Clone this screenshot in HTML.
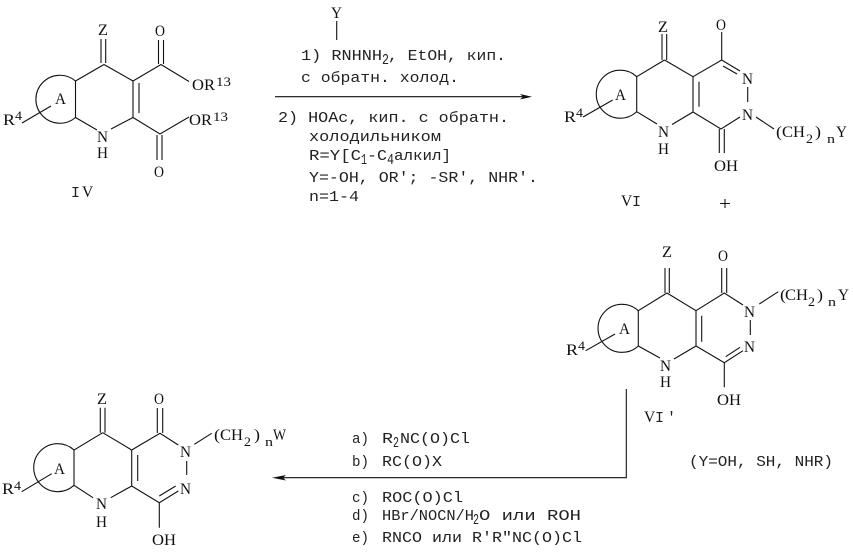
<!DOCTYPE html>
<html>
<head>
<meta charset="utf-8">
<style>
html,body{margin:0;padding:0;background:#fff}
svg{display:block}
text{font-family:"Liberation Serif","DejaVu Serif",serif;font-size:15.5px;fill:#111}
.m,.m text{font-family:"Liberation Mono","DejaVu Sans Mono",monospace;font-size:15px;fill:#222}
.s{font-size:13px}
.ms{font-family:"Liberation Mono","DejaVu Sans Mono",monospace;font-size:12px;fill:#222}
.b{fill:none;stroke:#111;stroke-width:1.1}
</style>
</head>
<body>
<svg width="853" height="556" viewBox="0 0 853 556" xmlns="http://www.w3.org/2000/svg">

<!-- IV -->
<path class="b" d="M101 39V63M105.7 39V63M104 64.5L75.5 81V117.5L97 130M111 129L133 117.5V81L104 64.5M139 83V113M133 81L161 64.5L189 81.5M158.5 40V64M163.5 40V64M133 117.5L160 134L189 117M157 135V160M162 135V160M22 123L51 106M75.5 81A24 24 0 1 0 75.5 117.5"/>
<text x="98" y="35" textLength="10" lengthAdjust="spacingAndGlyphs">Z</text>
<text x="155" y="36" textLength="10" lengthAdjust="spacingAndGlyphs">O</text>
<text x="154" y="177" textLength="10" lengthAdjust="spacingAndGlyphs">O</text>
<text x="192" y="90" textLength="23" lengthAdjust="spacingAndGlyphs">OR</text>
<text class="s" x="216" y="86" textLength="15" lengthAdjust="spacingAndGlyphs">13</text>
<text x="189" y="125" textLength="23" lengthAdjust="spacingAndGlyphs">OR</text>
<text class="s" x="213" y="121" textLength="15" lengthAdjust="spacingAndGlyphs">13</text>
<text x="55" y="104" textLength="11" lengthAdjust="spacingAndGlyphs">A</text>
<text x="3" y="125" textLength="12" lengthAdjust="spacingAndGlyphs">R</text>
<text class="s" x="15" y="120" textLength="7" lengthAdjust="spacingAndGlyphs">4</text>
<text x="97" y="142" textLength="11" lengthAdjust="spacingAndGlyphs">N</text>
<text x="97" y="158" textLength="11" lengthAdjust="spacingAndGlyphs">H</text>
<text y="197"><tspan class="m" x="71">I</tspan><tspan x="82">V</tspan></text>

<!-- top reaction -->
<text x="331" y="18" textLength="11" lengthAdjust="spacingAndGlyphs">Y</text>
<path class="b" d="M336.7 21V40M275 96.7H524"/>
<polygon points="532,96.7 520,94 523,96.7 520,99.5" fill="#111"/>
<g class="m">
<text x="301" y="60" textLength="81" lengthAdjust="spacingAndGlyphs">1) RNHNH</text>
<text class="ms" x="382" y="64" textLength="7" lengthAdjust="spacingAndGlyphs">2</text>
<text x="388" y="60" textLength="118" lengthAdjust="spacingAndGlyphs">, EtOH, кип.</text>
<text x="301" y="82" textLength="158" lengthAdjust="spacingAndGlyphs">с обратн. холод.</text>
<text x="278" y="122" textLength="231" lengthAdjust="spacingAndGlyphs">2) HOAc, кип. с обратн.</text>
<text x="309" y="141" textLength="132" lengthAdjust="spacingAndGlyphs">холодильником</text>
<text x="309" y="160" textLength="52" lengthAdjust="spacingAndGlyphs">R=Y[C</text>
<text class="ms" x="361" y="164" textLength="6" lengthAdjust="spacingAndGlyphs">1</text>
<text x="367" y="160" textLength="20" lengthAdjust="spacingAndGlyphs">-C</text>
<text class="ms" x="387" y="164" textLength="7" lengthAdjust="spacingAndGlyphs">4</text>
<text x="394" y="160" textLength="57" lengthAdjust="spacingAndGlyphs">алкил]</text>
<text x="309" y="182" textLength="229" lengthAdjust="spacingAndGlyphs">Y=-OH, OR'; -SR', NHR'.</text>
<text x="309" y="201" textLength="50" lengthAdjust="spacingAndGlyphs">n=1-4</text>
</g>

<!-- VI -->
<path class="b" d="M662 34V60M666.7 34V60M664.5 60L636.7 76.7V111.7L657 124M672 124.5L693 112V76.7L664.5 60M699 81.7V106.7M693 76.7L721.7 60L740 71M723 66L737 74M721.7 32V60M747.7 87V102M693 112L721 129L740 117M719.3 129V153M724.3 129V153M756 117L774 129M583 117L612.7 100M636.7 76.7A24 24 0 1 0 636.7 111.7"/>
<text x="658" y="32" textLength="10" lengthAdjust="spacingAndGlyphs">Z</text>
<text x="716" y="30" textLength="10" lengthAdjust="spacingAndGlyphs">O</text>
<text x="742" y="84" textLength="11" lengthAdjust="spacingAndGlyphs">N</text>
<text x="742" y="120" textLength="11" lengthAdjust="spacingAndGlyphs">N</text>
<text x="658" y="137" textLength="11" lengthAdjust="spacingAndGlyphs">N</text>
<text x="658" y="154" textLength="11" lengthAdjust="spacingAndGlyphs">H</text>
<text x="714" y="171" textLength="24" lengthAdjust="spacingAndGlyphs">OH</text>
<text x="615" y="100" textLength="11" lengthAdjust="spacingAndGlyphs">A</text>
<text x="564" y="122" textLength="12" lengthAdjust="spacingAndGlyphs">R</text>
<text class="s" x="576" y="117" textLength="7" lengthAdjust="spacingAndGlyphs">4</text>
<text x="776" y="137" textLength="6" lengthAdjust="spacingAndGlyphs">(</text>
<text x="782" y="137" textLength="23" lengthAdjust="spacingAndGlyphs">CH</text>
<text class="s" x="806" y="143" textLength="7" lengthAdjust="spacingAndGlyphs">2</text>
<text x="815" y="137" textLength="6" lengthAdjust="spacingAndGlyphs">)</text>
<text class="s" x="827" y="143" textLength="8" lengthAdjust="spacingAndGlyphs">n</text>
<text x="836" y="137" textLength="11" lengthAdjust="spacingAndGlyphs">Y</text>
<text y="206"><tspan x="621">V</tspan><tspan class="m" x="632">I</tspan></text>
<text x="719" y="210" style="font-size:19px" textLength="12" lengthAdjust="spacingAndGlyphs">+</text>

<!-- VI' -->
<path class="b" d="M665 268V293M669.3 268V293M667 293L638.3 310.7V346L660 358M674 359L696 346V310.7L667 293M701.7 315.7V341.7M696 310.7L724.3 293L743 305M721.7 268V293M726.7 268V293M750.3 320V335M696 346L724.3 362.7L743 350.7M725.7 356.7L740 347.3M724.3 362.7V387.3M759.3 304L778.3 291.7M585.7 350.7L615 334M638.3 310.7A24 24 0 1 0 638.3 346"/>
<text x="662" y="257" textLength="10" lengthAdjust="spacingAndGlyphs">Z</text>
<text x="718" y="261" textLength="10" lengthAdjust="spacingAndGlyphs">O</text>
<text x="744" y="317" textLength="11" lengthAdjust="spacingAndGlyphs">N</text>
<text x="744" y="352" textLength="11" lengthAdjust="spacingAndGlyphs">N</text>
<text x="660" y="371" textLength="11" lengthAdjust="spacingAndGlyphs">N</text>
<text x="660" y="387" textLength="11" lengthAdjust="spacingAndGlyphs">H</text>
<text x="717" y="405" textLength="24" lengthAdjust="spacingAndGlyphs">OH</text>
<text x="619" y="334" textLength="11" lengthAdjust="spacingAndGlyphs">A</text>
<text x="566" y="355" textLength="12" lengthAdjust="spacingAndGlyphs">R</text>
<text class="s" x="578" y="350" textLength="7" lengthAdjust="spacingAndGlyphs">4</text>
<text x="780" y="300" textLength="6" lengthAdjust="spacingAndGlyphs">(</text>
<text x="785" y="300" textLength="23" lengthAdjust="spacingAndGlyphs">CH</text>
<text class="s" x="808" y="306" textLength="7" lengthAdjust="spacingAndGlyphs">2</text>
<text x="817" y="300" textLength="6" lengthAdjust="spacingAndGlyphs">)</text>
<text class="s" x="828" y="306" textLength="8" lengthAdjust="spacingAndGlyphs">n</text>
<text x="838" y="300" textLength="11" lengthAdjust="spacingAndGlyphs">Y</text>
<text y="422"><tspan x="644">V</tspan><tspan class="m" x="655">I</tspan><tspan class="m" x="667">'</tspan></text>
<g class="m">
<text x="689" y="466" textLength="144" lengthAdjust="spacingAndGlyphs">(Y=OH, SH, NHR)</text>
</g>

<!-- lower reaction -->
<path class="b" d="M626.3 389V477.7H282"/>
<polygon points="272,477.7 286,475 283,477.7 286,480.5" fill="#111"/>
<g class="m">
<text x="352" y="443" textLength="17" lengthAdjust="spacingAndGlyphs">a)</text>
<text x="382" y="443" textLength="11" lengthAdjust="spacingAndGlyphs">R</text>
<text class="ms" x="393" y="447" textLength="6" lengthAdjust="spacingAndGlyphs">2</text>
<text x="400" y="443" textLength="70" lengthAdjust="spacingAndGlyphs">NC(O)Cl</text>
<text x="352" y="466" textLength="17" lengthAdjust="spacingAndGlyphs">b)</text>
<text x="382" y="466" textLength="60" lengthAdjust="spacingAndGlyphs">RC(O)X</text>
<text x="352" y="502" textLength="17" lengthAdjust="spacingAndGlyphs">c)</text>
<text x="382" y="502" textLength="81" lengthAdjust="spacingAndGlyphs">ROC(O)Cl</text>
<text x="352" y="520" textLength="17" lengthAdjust="spacingAndGlyphs">d)</text>
<text x="382" y="520" textLength="92" lengthAdjust="spacingAndGlyphs">HBr/NOCN/H</text>
<text class="ms" x="473" y="524" textLength="6" lengthAdjust="spacingAndGlyphs">2</text>
<text x="479" y="520" textLength="102" lengthAdjust="spacingAndGlyphs">O или ROH</text>
<text x="352" y="542" textLength="17" lengthAdjust="spacingAndGlyphs">e)</text>
<text x="382" y="542" textLength="200" lengthAdjust="spacingAndGlyphs">RNCO или R'R"NC(O)Cl</text>
</g>

<!-- bottom product -->
<path class="b" d="M100.3 407.7V432.7M105 407.7V432.7M102.7 432.7L74 450V485.3L93 497.7M110.7 497.7L131.7 486V450L102.7 432.7M137.7 455V481M131.7 450L160 433.3L178.3 445M157.3 408V433M162.7 408V433M186.7 461V475M131.7 486L159.3 502.7L178.3 491M159.3 496L175.7 486M159.3 502.7V527.7M194.3 444.3L211.7 433.3M21.7 491.7L51.7 473.7M74 450A24 24 0 1 0 74 485.3"/>
<text x="97" y="404" textLength="10" lengthAdjust="spacingAndGlyphs">Z</text>
<text x="154" y="404" textLength="10" lengthAdjust="spacingAndGlyphs">O</text>
<text x="180" y="457" textLength="11" lengthAdjust="spacingAndGlyphs">N</text>
<text x="180" y="494" textLength="11" lengthAdjust="spacingAndGlyphs">N</text>
<text x="96" y="509" textLength="11" lengthAdjust="spacingAndGlyphs">N</text>
<text x="96" y="527" textLength="11" lengthAdjust="spacingAndGlyphs">H</text>
<text x="152" y="545" textLength="24" lengthAdjust="spacingAndGlyphs">OH</text>
<text x="54" y="474" textLength="11" lengthAdjust="spacingAndGlyphs">A</text>
<text x="2" y="494" textLength="12" lengthAdjust="spacingAndGlyphs">R</text>
<text class="s" x="14" y="490" textLength="7" lengthAdjust="spacingAndGlyphs">4</text>
<text x="214" y="440" textLength="6" lengthAdjust="spacingAndGlyphs">(</text>
<text x="220" y="440" textLength="23" lengthAdjust="spacingAndGlyphs">CH</text>
<text class="s" x="244" y="446" textLength="7" lengthAdjust="spacingAndGlyphs">2</text>
<text x="254" y="440" textLength="6" lengthAdjust="spacingAndGlyphs">)</text>
<text class="s" x="265" y="446" textLength="8" lengthAdjust="spacingAndGlyphs">n</text>
<text x="273" y="440" textLength="13" lengthAdjust="spacingAndGlyphs">W</text>
</svg>
</body>
</html>
